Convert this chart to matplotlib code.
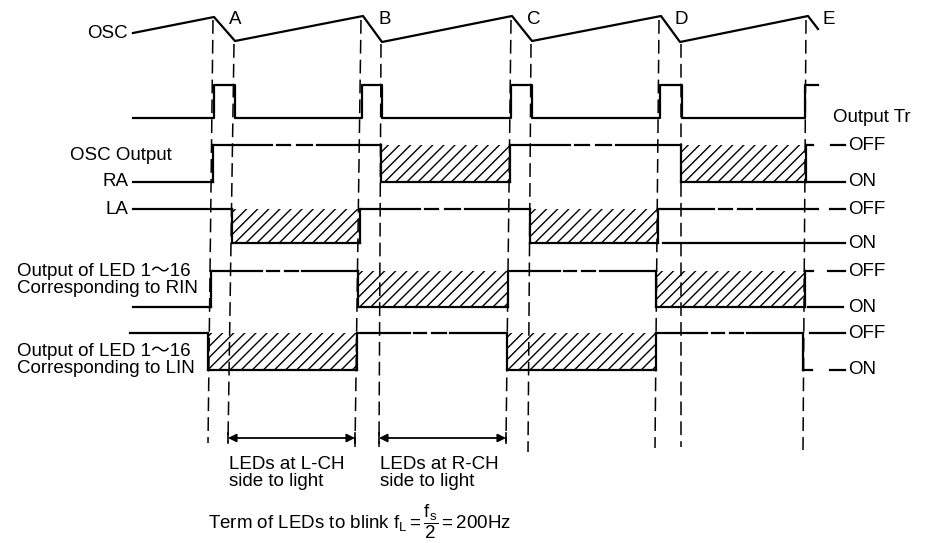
import matplotlib
matplotlib.use("Agg")
import matplotlib.pyplot as plt

plt.rcParams['font.family'] = ['Liberation Sans', 'Noto Sans CJK JP']
plt.rcParams['mathtext.fontset'] = 'custom'
plt.rcParams['mathtext.rm'] = 'Liberation Sans'
plt.rcParams['mathtext.it'] = 'Liberation Sans'
plt.rcParams['hatch.linewidth'] = 1.0

# --- OSC sawtooth (x, level) ---
osc_x = [133, 214, 235, 363, 382, 512, 532, 661, 680, 808, 818]
osc_y = [33, 17, 41, 16, 42, 16, 41, 16, 42, 16, 29]
peak_labels = ["A", "B", "C", "D", "E"]
peak_label_x = [229, 378, 527, 674, 822]

# --- pulse row ---
pulse_rise = [214, 362, 511, 660, 805]
pulse_fall = [235, 382, 532, 682]
pulse_start, pulse_end = 133, 818
pulse_low, pulse_high = 118, 85

# --- output rows: RA, LA, RIN, LIN ---
row_off = [145, 209, 271, 333]
row_on = [182, 243, 307, 370]
row_edges = [
    [133, 213, 381, 510, 681, 806],
    [133, 232, 360, 530, 658, 818],
    [133, 211, 358, 508, 656, 805],
    [130, 208, 357, 507, 656, 803],
]
row_states = [
    ["on", "off", "hatch", "off", "hatch"],
    ["off", "hatch", "off", "hatch", "off"],
    ["on", "off", "hatch", "off", "hatch"],
    ["off", "hatch", "off", "hatch", "off"],
]
row_end_drop = [True, False, True, True]
row_off_ticks = [
    [(807, 813), (831, 845)],
    [(830, 845)],
    [(805, 813), (828, 845)],
    [(810, 845)],
]
row_on_ticks = [
    [(806, 845)],
    [(663, 845)],
    [(808, 843)],
    [(803, 812), (830, 845)],
]

# --- vertical timing guides ---
guide_top_x = [213, 234, 361, 381, 511, 531, 659, 681, 806]
guide_bot_x = [208, 228, 355, 379, 506, 528, 655, 681, 803]
guide_top_y = [20, 44, 20, 44, 20, 44, 20, 44, 20]
guide_bot_y = [443, 442, 447, 447, 442, 452, 448, 447, 450]

# --- span arrows ---
span_x0 = [228, 379]
span_x1 = [355, 506]
span_y = 438
span_text = ["LEDs at L-CH\nside to light", "LEDs at R-CH\nside to light"]

fig = plt.figure(figsize=(9.38, 5.43), dpi=100)
ax = fig.add_axes([0, 0, 1, 1])
ax.set_xlim(0, 938)
ax.set_ylim(543, 0)
ax.axis("off")

LW = 1.6
FS = 13.5

# OSC
ax.plot(osc_x, osc_y, color="k", lw=LW)
ax.text(128, 34, "OSC", ha="right", va="center", fontsize=FS)
for lab, lx in zip(peak_labels, peak_label_x):
    ax.text(lx, 19, lab, ha="left", va="center", fontsize=FS)

# pulse train
px, py = [pulse_start], [pulse_low]
for i, r in enumerate(pulse_rise):
    px += [r, r]
    py += [pulse_low, pulse_high]
    if i < len(pulse_fall):
        f = pulse_fall[i]
        px += [f, f]
        py += [pulse_high, pulse_low]
    else:
        px.append(pulse_end)
        py.append(pulse_high)
ax.plot(px, py, color="k", lw=LW)


def broken(x0, x1, y):
    w = x1 - x0
    ax.plot([x0, x0 + 0.35 * w], [y, y], color="k", lw=LW)
    ax.plot([x0 + 0.38 * w, x0 + 0.46 * w], [y, y], color="k", lw=LW)
    ax.plot([x0 + 0.50 * w, x0 + 0.59 * w], [y, y], color="k", lw=LW)
    ax.plot([x0 + 0.62 * w, x1], [y, y], color="k", lw=LW)


for k in range(4):
    yo, yn = row_off[k], row_on[k]
    ed, st = row_edges[k], row_states[k]
    lev = {"on": yn, "off": yo, "hatch": yn}
    for i, s in enumerate(st):
        x0, x1 = ed[i], ed[i + 1]
        y = lev[s]
        if s == "off" and x1 - x0 > 100:
            broken(x0, x1, y)
        else:
            ax.plot([x0, x1], [y, y], color="k", lw=LW)
        if s == "hatch":
            ax.fill_between([x0, x1], yo, yn, facecolor="none",
                            edgecolor="k", hatch="///", linewidth=0)
        if i > 0 and lev[st[i - 1]] != y:
            ax.plot([x0, x0], [yo, yn], color="k", lw=LW)
    if row_end_drop[k]:
        ax.plot([ed[-1], ed[-1]], [yo, yn], color="k", lw=LW)
    for a, b in row_off_ticks[k]:
        ax.plot([a, b], [yo, yo], color="k", lw=LW)
    for a, b in row_on_ticks[k]:
        ax.plot([a, b], [yn, yn], color="k", lw=LW)
    ax.text(848, yo, "OFF", ha="left", va="center", fontsize=FS)
    ax.text(848, yn, "ON", ha="left", va="center", fontsize=FS)

ax.text(833, 118, "Output Tr", ha="left", va="center", fontsize=FS)

# left labels
ax.text(70, 155, "OSC Output", ha="left", va="center", fontsize=FS)
ax.text(128, row_on[0], "RA", ha="right", va="center", fontsize=FS)
ax.text(128, row_off[1], "LA", ha="right", va="center", fontsize=FS)
ax.text(17, 280, "Output of LED 1～16\nCorresponding to RIN", ha="left",
        va="center", fontsize=FS, linespacing=0.98)
ax.text(17, 360, "Output of LED 1～16\nCorresponding to LIN", ha="left",
        va="center", fontsize=FS, linespacing=0.98)

# timing guides
for xt, xb, yt, yb in zip(guide_top_x, guide_bot_x, guide_top_y, guide_bot_y):
    ax.plot([xt, xb], [yt, yb], color="k", lw=1.1, dashes=(9, 4))

# span arrows
for x0, x1, t in zip(span_x0, span_x1, span_text):
    ax.annotate("", xy=(x1, span_y), xytext=(x0, span_y),
                arrowprops=dict(arrowstyle="<|-|>", color="k", lw=1.3,
                                shrinkA=0, shrinkB=0, mutation_scale=12))
    ax.plot([x0, x0], [span_y - 5, span_y + 5], color="k", lw=1.2)
    ax.plot([x1, x1], [span_y - 5, span_y + 5], color="k", lw=1.2)
    ax.text(x0 + 1, 473, t, ha="left", va="center", fontsize=FS,
            linespacing=0.98)

ax.text(208, 522, r"Term of LEDs to blink f$_{\mathrm{L}}$$=\dfrac{\mathrm{f_s}}{\mathrm{2}}$$=$200Hz",
        ha="left", va="center", fontsize=FS)

fig.savefig("out.png", dpi=100)
